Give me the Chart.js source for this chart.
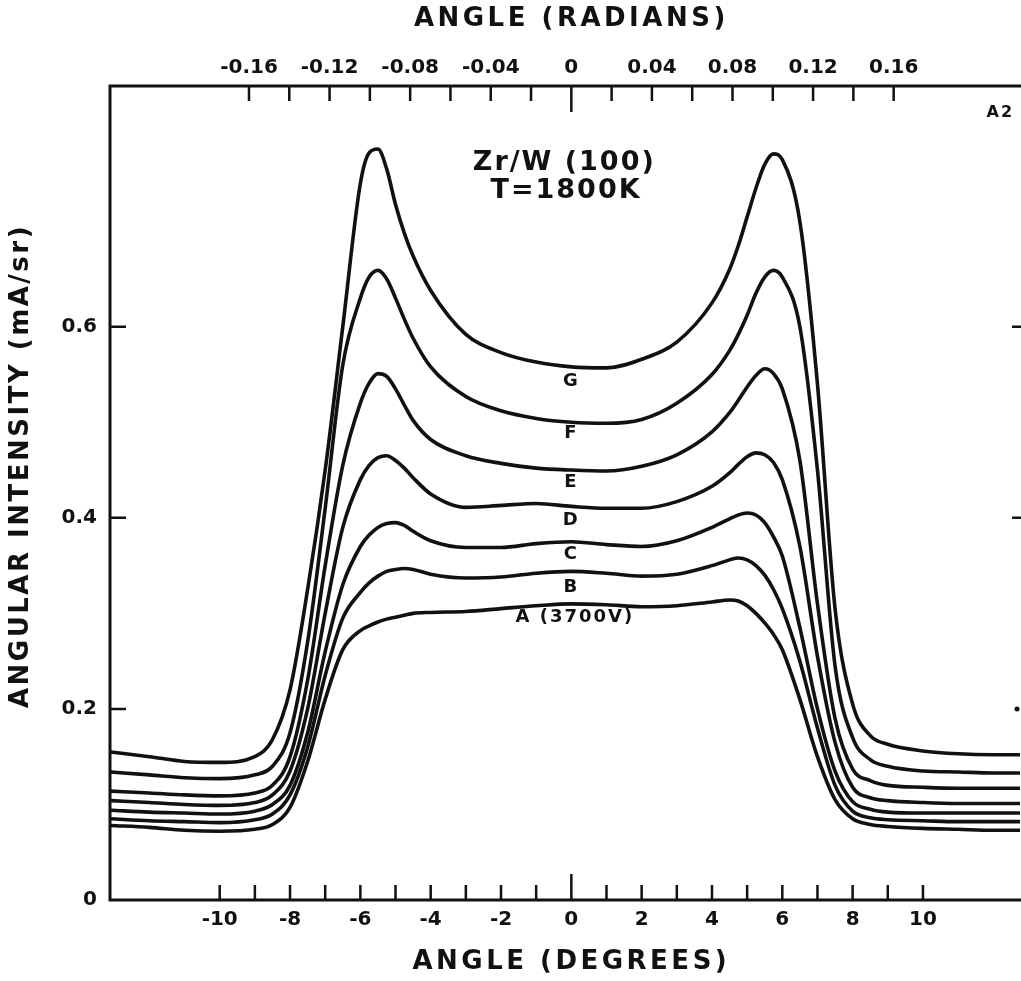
<!DOCTYPE html>
<html>
<head>
<meta charset="utf-8">
<script src="https://cdn.jsdelivr.net/npm/chart.js@4/dist/chart.umd.min.js"></script>
<style>
  body { margin: 0; background: #fff; }
  #wrap { width: 1021px; height: 981px; }
</style>
</head>
<body>
<div id="wrap"><canvas id="myChart" width="1021" height="981"></canvas></div>
<script>
// angle grid (degrees) shared by all curves
const angleDeg = [-13.1, -12, -11, -10, -9, -8.5, -8, -7.5, -7, -6.5, -6, -5.75, -5.5, -5.25, -5, -4.75, -4.5, -4, -3, -2, -1, 0, 1, 2, 3, 4, 4.5, 4.75, 5, 5.25, 5.5, 5.75, 6, 6.5, 7, 7.5, 8, 8.5, 9, 10, 11, 12, 12.8];

// angular intensity (mA/sr), curves A..G
const curveA = [0.078, 0.076, 0.073, 0.072, 0.074, 0.079, 0.097, 0.145, 0.210, 0.262, 0.282, 0.287, 0.291, 0.294, 0.296, 0.298, 0.300, 0.301, 0.302, 0.305, 0.308, 0.310, 0.309, 0.307, 0.308, 0.312, 0.314, 0.313, 0.308, 0.300, 0.290, 0.278, 0.262, 0.210, 0.150, 0.105, 0.085, 0.079, 0.077, 0.075, 0.074, 0.073, 0.073];
const curveB = [0.085, 0.083, 0.082, 0.081, 0.084, 0.090, 0.110, 0.160, 0.235, 0.295, 0.322, 0.332, 0.339, 0.344, 0.346, 0.347, 0.346, 0.341, 0.337, 0.338, 0.342, 0.344, 0.342, 0.339, 0.341, 0.350, 0.356, 0.358, 0.356, 0.350, 0.340, 0.325, 0.305, 0.250, 0.180, 0.120, 0.093, 0.086, 0.084, 0.083, 0.082, 0.082, 0.082];
const curveC = [0.094, 0.092, 0.091, 0.090, 0.093, 0.100, 0.120, 0.175, 0.260, 0.330, 0.370, 0.382, 0.390, 0.394, 0.395, 0.392, 0.386, 0.376, 0.369, 0.369, 0.373, 0.375, 0.372, 0.370, 0.376, 0.390, 0.399, 0.403, 0.405, 0.403, 0.395, 0.380, 0.360, 0.285, 0.200, 0.135, 0.103, 0.095, 0.092, 0.091, 0.091, 0.091, 0.091];
const curveD = [0.104, 0.102, 0.100, 0.099, 0.102, 0.110, 0.135, 0.200, 0.300, 0.390, 0.440, 0.455, 0.463, 0.465, 0.460, 0.452, 0.442, 0.425, 0.411, 0.413, 0.415, 0.412, 0.410, 0.410, 0.417, 0.433, 0.447, 0.456, 0.464, 0.468, 0.466, 0.458, 0.440, 0.370, 0.255, 0.165, 0.118, 0.107, 0.104, 0.102, 0.101, 0.101, 0.101];
const curveE = [0.114, 0.112, 0.110, 0.109, 0.112, 0.120, 0.150, 0.230, 0.350, 0.455, 0.520, 0.541, 0.551, 0.548, 0.535, 0.518, 0.502, 0.482, 0.465, 0.457, 0.452, 0.450, 0.449, 0.454, 0.466, 0.490, 0.510, 0.523, 0.537, 0.549, 0.556, 0.551, 0.535, 0.460, 0.310, 0.190, 0.137, 0.125, 0.120, 0.118, 0.117, 0.117, 0.117];
const curveF = [0.134, 0.131, 0.128, 0.127, 0.131, 0.140, 0.175, 0.270, 0.410, 0.560, 0.630, 0.652, 0.659, 0.650, 0.630, 0.608, 0.588, 0.558, 0.527, 0.512, 0.504, 0.500, 0.499, 0.503, 0.520, 0.550, 0.575, 0.592, 0.612, 0.635, 0.652, 0.659, 0.652, 0.600, 0.450, 0.245, 0.170, 0.147, 0.140, 0.135, 0.134, 0.133, 0.133];
const curveG = [0.155, 0.150, 0.145, 0.144, 0.150, 0.168, 0.220, 0.325, 0.450, 0.600, 0.750, 0.782, 0.786, 0.765, 0.728, 0.698, 0.674, 0.638, 0.592, 0.573, 0.563, 0.558, 0.557, 0.566, 0.584, 0.625, 0.660, 0.685, 0.715, 0.745, 0.770, 0.781, 0.775, 0.710, 0.540, 0.305, 0.205, 0.172, 0.163, 0.156, 0.153, 0.152, 0.152];

const curveNames = ['A (3700V)', 'B', 'C', 'D', 'E', 'F', 'G'];
// where each curve name sits (degrees, mA/sr)
const nameX = [0.1, 0, 0, 0, 0, 0, 0];
const nameY = [0.296, 0.327, 0.362, 0.397, 0.437, 0.488, 0.543];

// tick marks and labels
const degTicks = [-10, -9, -8, -7, -6, -5, -4, -3, -2, -1, 0, 1, 2, 3, 4, 5, 6, 7, 8, 9, 10];
const degLabels = ['-10', '', '-8', '', '-6', '', '-4', '', '-2', '', '0', '', '2', '', '4', '', '6', '', '8', '', '10'];
const radTicks = [-0.16, -0.14, -0.12, -0.10, -0.08, -0.06, -0.04, -0.02, 0, 0.02, 0.04, 0.06, 0.08, 0.10, 0.12, 0.14, 0.16];
const radLabels = ['-0.16', '', '-0.12', '', '-0.08', '', '-0.04', '', '0', '', '0.04', '', '0.08', '', '0.12', '', '0.16'];
const yTicks = [0, 0.2, 0.4, 0.6];
const yLabels = ['0', '0.2', '0.4', '0.6'];

const degMin = -13.12;
const degMax = 12.76;
const ink = '#111';
const tickFont = { family: 'DejaVu Sans', weight: 'bold', size: 20 };

const datasets = [curveA, curveB, curveC, curveD, curveE, curveF, curveG].map(function (vals, i) {
  return {
    label: curveNames[i],
    data: angleDeg.map(function (x, k) { return { x: x, y: vals[k] }; }),
    borderColor: ink,
    borderWidth: 3.6,
    pointRadius: 0,
    fill: false,
    cubicInterpolationMode: 'monotone',
  };
});

const frameAndText = {
  id: 'frameAndText',
  afterDraw: function (chart) {
    const ctx = chart.ctx;
    const a = chart.chartArea;
    const xs = chart.scales.x;
    const xt = chart.scales.x2;
    const ys = chart.scales.y;
    ctx.save();
    ctx.strokeStyle = ink;
    ctx.fillStyle = ink;
    ctx.lineCap = 'butt';

    // frame
    ctx.lineWidth = 3;
    ctx.beginPath();
    ctx.moveTo(1021, a.top);
    ctx.lineTo(a.left, a.top);
    ctx.lineTo(a.left, a.bottom);
    ctx.lineTo(1021, a.bottom);
    ctx.stroke();

    // inward ticks
    ctx.lineWidth = 2.5;
    ctx.beginPath();
    degTicks.forEach(function (v) {
      const px = xs.getPixelForValue(v);
      ctx.moveTo(px, a.bottom);
      ctx.lineTo(px, a.bottom - (v === 0 ? 26 : 15));
    });
    radTicks.forEach(function (v) {
      const px = xt.getPixelForValue(v);
      ctx.moveTo(px, a.top);
      ctx.lineTo(px, a.top + (v === 0 ? 26 : 15));
    });
    yTicks.forEach(function (v) {
      if (v === 0) return;
      const py = ys.getPixelForValue(v);
      ctx.moveTo(a.left, py);
      ctx.lineTo(a.left + 16, py);
    });
    [0.4, 0.6].forEach(function (v) {
      const py = ys.getPixelForValue(v);
      ctx.moveTo(a.right - 8, py);
      ctx.lineTo(a.right + 1, py);
    });
    ctx.stroke();
    ctx.beginPath();
    ctx.arc(a.right - 3, ys.getPixelForValue(0.2), 2.5, 0, Math.PI * 2);
    ctx.fill();

    // axis titles
    ctx.font = 'bold 26px "DejaVu Sans"';
    ctx.letterSpacing = '3.5px';
    ctx.textAlign = 'center';
    ctx.textBaseline = 'middle';
    ctx.fillText('ANGLE (DEGREES)', xs.getPixelForValue(0), 962);
    ctx.fillText('ANGLE (RADIANS)', xs.getPixelForValue(0), 19);
    ctx.save();
    ctx.translate(21, 466);
    ctx.rotate(-Math.PI / 2);
    ctx.letterSpacing = '2.5px';
    ctx.fillText('ANGULAR INTENSITY (mA/sr)', 0, 0);
    ctx.restore();

    // heading inside the plot
    ctx.font = 'bold 27px "DejaVu Sans"';
    ctx.letterSpacing = '2px';
    ctx.fillText('Zr/W (100)', xs.getPixelForValue(-0.2), ys.getPixelForValue(0.771));
    ctx.fillText('T=1800K', xs.getPixelForValue(-0.15), ys.getPixelForValue(0.742));

    // curve names
    ctx.font = 'bold 18px "DejaVu Sans"';
    ctx.letterSpacing = '2px';
    curveNames.forEach(function (name, i) {
      ctx.fillText(name, xs.getPixelForValue(nameX[i]), ys.getPixelForValue(nameY[i]));
    });
    ctx.font = 'bold 16px "DejaVu Sans"';
    ctx.fillText('A2', xs.getPixelForValue(12.2), ys.getPixelForValue(0.824));
    ctx.restore();
  },
};

const config = {
  type: 'line',
  data: { datasets: datasets },
  options: {
    responsive: false,
    animation: false,
    events: [],
    layout: { padding: { right: 1 } },
    plugins: { legend: { display: false }, tooltip: { enabled: false } },
    scales: {
      x: {
        type: 'linear',
        position: 'bottom',
        min: degMin,
        max: degMax,
        afterBuildTicks: function (s) { s.ticks = degTicks.map(function (v) { return { value: v }; }); },
        afterFit: function (s) { s.height = 81; },
        grid: { display: false, drawTicks: false },
        border: { display: false },
        ticks: {
          autoSkip: false,
          maxRotation: 0,
          padding: 8,
          color: ink,
          font: tickFont,
          callback: function (v, i) { return degLabels[i]; },
        },
      },
      x2: {
        type: 'linear',
        position: 'top',
        min: degMin * Math.PI / 180,
        max: degMax * Math.PI / 180,
        afterBuildTicks: function (s) { s.ticks = radTicks.map(function (v) { return { value: v }; }); },
        afterFit: function (s) { s.height = 86; },
        grid: { display: false, drawTicks: false },
        border: { display: false },
        ticks: {
          autoSkip: false,
          maxRotation: 0,
          padding: 6,
          color: ink,
          font: tickFont,
          callback: function (v, i) { return radLabels[i]; },
        },
      },
      y: {
        type: 'linear',
        min: 0,
        max: 0.852,
        afterBuildTicks: function (s) { s.ticks = yTicks.map(function (v) { return { value: v }; }); },
        afterFit: function (s) { s.width = 110; },
        grid: { display: false, drawTicks: false },
        border: { display: false },
        ticks: {
          padding: 13,
          color: ink,
          font: tickFont,
          callback: function (v, i) { return yLabels[i]; },
        },
      },
    },
  },
  plugins: [frameAndText],
};

const myChart = new Chart(document.getElementById('myChart'), config);
</script>
</body>
</html>
